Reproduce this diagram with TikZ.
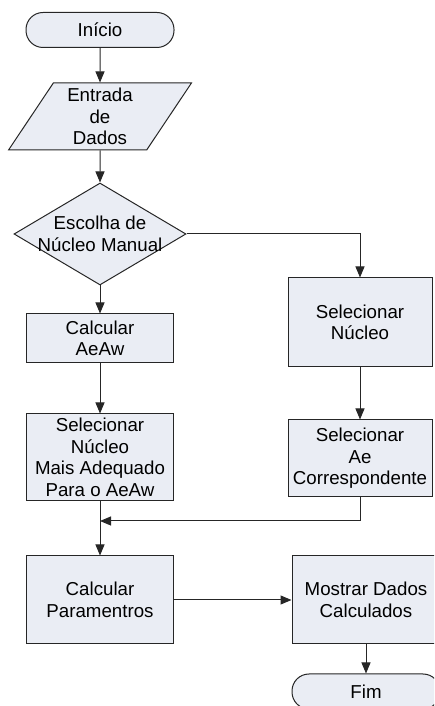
\documentclass[tikz,border=0pt]{standalone}
\usepackage{fontspec}
\setmainfont{Liberation Sans}
\usetikzlibrary{shapes.geometric,arrows.meta}
\definecolor{caixa}{RGB}{234,237,244}
\tikzset{
  base/.style={draw=black!85, fill=caixa, line width=0.5pt, align=center, inner sep=0pt, font=\fontsize{9.35}{10.75}\selectfont},
  proc/.style={base, rectangle, minimum width=73.5pt},
  term/.style={base, rectangle, rounded corners=8.5pt, minimum width=74pt, minimum height=17.5pt},
  io/.style={base, trapezium, trapezium left angle=61, trapezium right angle=119, trapezium stretches, minimum width=92pt, minimum height=33.5pt},
  decisao/.style={base, diamond, minimum width=86pt, minimum height=51pt},
  rotulo/.style={align=center, inner sep=0pt, font=\fontsize{9.35}{10.75}\selectfont},
  seta/.style={-{Triangle[length=5.5pt,width=4.5pt]}, line width=0.5pt, draw=black!85}
}
\begin{document}
\begin{tikzpicture}[x=0.5pt,y=0.5pt]
\useasboundingbox (0,0) rectangle (434,706);
\clip (0,0) rectangle (434,706);

\node[term] (inicio) at (100,676) {Início};
\node[io] (entrada) at (100,589.5) {Entrada\\de\\Dados};
\node[decisao, label={[rotulo]center:Escolha de\\Núcleo Manual}] (escolha) at (100,472) {};
\node[proc, minimum height=24.5pt] (calcAeAw) at (100,367.5) {Calcular\\AeAw};
\node[proc, minimum height=43.5pt] (selMais) at (100,248.5) {Selecionar\\Núcleo\\Mais Adequado\\Para o AeAw};
\node[proc, minimum height=44pt] (calcPar) at (100,106) {Calcular\\Paramentros};

\node[proc, minimum width=72pt, minimum height=44.5pt] (selNucleo) at (360,383.5) {Selecionar\\Núcleo};
\node[proc, minimum width=72pt, minimum height=38.5pt] (selAe) at (360,247.5) {Selecionar\\Ae\\Correspondente};
\node[proc, minimum width=74pt, minimum height=44pt] (mostrar) at (366,106) {Mostrar Dados\\Calculados};
\node[term] (fim) at (366,14.5) {Fim};

\coordinate (junta) at (100,185);

\draw[seta] (inicio) -- (entrada);
\draw[seta] (entrada) -- (escolha);
\draw[seta] (escolha) -- (calcAeAw);
\draw[seta] (escolha.east) -| (selNucleo);
\draw[seta] (calcAeAw) -- (selMais);
\draw[seta] (selNucleo) -- (selAe);
\draw[seta] (selAe.south) |- (junta);
\draw[seta] (selMais) -- (calcPar);
\draw[seta] (calcPar) -- (mostrar);
\draw[seta] (mostrar) -- (fim);
\end{tikzpicture}
\end{document}
